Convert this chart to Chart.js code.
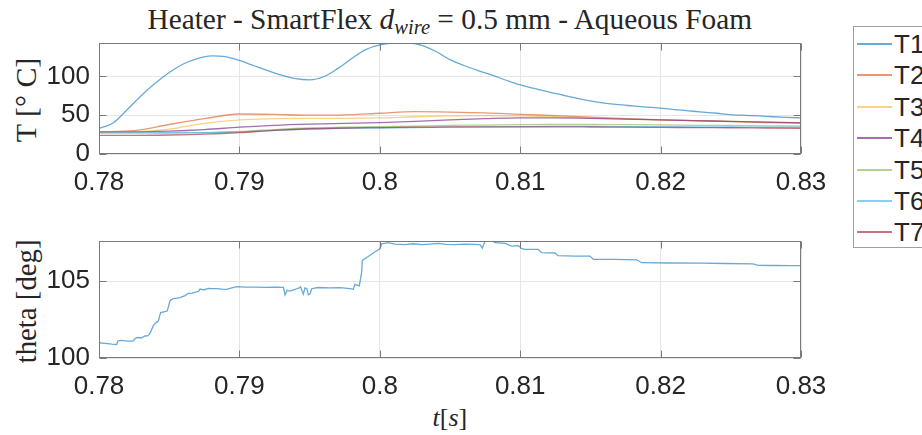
<!DOCTYPE html>
<html><head><meta charset="utf-8">
<script src="https://cdn.jsdelivr.net/npm/chart.js@4"></script>
<style>
html,body{margin:0;padding:0;background:#fff;width:922px;height:435px;overflow:hidden;position:relative;}
.abs{position:absolute;}
.serif{font-family:'Liberation Serif','Times New Roman',serif;color:#262626;white-space:nowrap;line-height:1;}
#legend{left:853px;top:26px;width:120px;height:222px;border:1px solid #a0a0a0;background:#fff;box-sizing:border-box;}
.lrow{position:absolute;left:0;height:30px;width:120px;}
.lline{position:absolute;left:3px;width:35px;height:2px;top:14px;}
.ltxt{position:absolute;left:40px;top:0;font-family:'Liberation Sans',Arial,sans-serif;font-size:26px;line-height:30px;color:#262626;}
</style>
</head><body>
<div id="title" class="abs serif" style="font-size:26px;"></div>
<div id="ylab1" class="abs serif" style="font-size:26px;">T [° C]</div>
<div id="ylab2" class="abs serif" style="font-size:26px;">theta [deg]</div>
<div id="xlab" class="abs serif" style="font-size:26px;"><i>t</i>[<i>s</i>]</div>
<canvas id="c1" class="abs" width="922" height="200" style="left:0;top:0;"></canvas>
<canvas id="c2" class="abs" width="922" height="235" style="left:0;top:200px;"></canvas>
<div id="legend" class="abs"></div>
<script>
// ---------------- DATA ----------------
const seriesNames = ['T1','T2','T3','T4','T5','T6','T7'];
const xTickValues = [0.78, 0.79, 0.80, 0.81, 0.82, 0.83];
const tempTickValues = [0, 50, 100];
const thetaTickValues = [100, 105];

// T1 sampled every 1 ms
const tFast = [0.780,0.781,0.782,0.783,0.784,0.785,0.786,0.787,0.788,0.789,0.790,0.791,0.792,0.793,0.794,0.795,0.796,0.797,0.798,0.799,0.800,0.801,0.802,0.803,0.804,0.805,0.806,0.807,0.808,0.809,0.810,0.811,0.812,0.813,0.814,0.815,0.816,0.817,0.818,0.819,0.820,0.821,0.822,0.823,0.824,0.825,0.826,0.827,0.828,0.829,0.830];
const T1 = [33,40,57,75,91,105,116,123,126.5,125.5,120.5,114,107.5,101.5,97,95.5,99.5,110,123,134.5,140.5,143,143,140,132,121.5,114,107.5,101.5,95,89,84.5,80,76,72,68.3,65.5,63.5,62,60.5,59,57.2,55.6,54,52.5,50.8,49.8,49,48,47.2,46.5];

// T2..T7 sampled every 2.5 ms
const tSlow = [0.7800,0.7825,0.7850,0.7875,0.7900,0.7925,0.7950,0.7975,0.8000,0.8025,0.8050,0.8075,0.8100,0.8125,0.8150,0.8175,0.8200,0.8225,0.8250,0.8275,0.8300];
const T2 = [28.5,30,38,45.5,51.5,51,50,50.5,52.5,54.5,54,53,51,49.5,47.5,45.5,44,42.8,41.7,40.6,39.7];
const T3 = [28,28.5,32,39.5,44,45.5,46,46,46.5,48,49,49.5,49,48,46.5,45,44,43,42,41,40.5];
const T4 = [28.5,28.5,29.5,31.5,34.5,37,38.5,39.5,40.5,42,44,45.5,46.5,46.5,46,45,44,43,42,41,40];
const T5 = [27,27,27,27.5,29,31.5,33.5,34.5,35.3,36,36.8,37.3,37.8,38,38,37.8,37.5,37,36.7,36.3,36];
const T6 = [28.5,28,27.5,27.5,28.5,30.5,32,33,33.5,34,34.5,35,35.3,35.5,35.5,35.3,35.2,35,34.8,34.6,34.5];
const T7 = [24,24,24.5,25.5,27.5,30.5,32.5,33.5,34,34.5,35,35,35,35,34.8,34.5,34.3,34,33.8,33.5,33.2];

// contact angle theta
const thetaT = [0.78000,0.78043,0.78093,0.78126,0.78135,0.78164,0.78199,0.78242,0.78256,0.78271,0.78299,0.78328,0.78349,0.78363,0.78387,0.78406,0.78422,0.78439,0.78462,0.78486,0.78506,0.78527,0.78548,0.78577,0.78613,0.78636,0.78662,0.78696,0.78712,0.78719,0.78748,0.78776,0.78805,0.78838,0.78876,0.78909,0.78947,0.78981,0.7904,0.79111,0.79182,0.79254,0.79313,0.79325,0.7934,0.7936,0.79396,0.79425,0.79435,0.79455,0.79467,0.79481,0.79491,0.79503,0.79515,0.7956,0.79645,0.79716,0.79788,0.79811,0.79823,0.79838,0.79854,0.79871,0.79875,0.79902,0.7993,0.79966,0.80001,0.80014,0.80061,0.80108,0.80179,0.80236,0.80298,0.80358,0.80417,0.80472,0.80536,0.80607,0.80671,0.80714,0.8073,0.80749,0.80797,0.80821,0.80892,0.80939,0.80987,0.81011,0.81034,0.81129,0.81153,0.81248,0.81269,0.8139,0.81497,0.81521,0.81675,0.8183,0.81865,0.82067,0.82281,0.82459,0.82658,0.82696,0.82815,0.82922,0.83];
const thetaV = [100.99,100.95,100.9,100.88,101.12,101.15,101.1,101.1,101.25,101.33,101.3,101.43,101.45,101.6,102.1,102.3,102.4,102.95,103.0,103.05,103.72,103.85,103.88,103.92,104.05,104.2,104.22,104.3,104.35,104.48,104.42,104.52,104.5,104.5,104.47,104.46,104.55,104.63,104.6,104.6,104.59,104.6,104.59,104.1,104.4,104.35,104.45,104.55,104.62,104.15,104.55,104.5,104.1,104.15,104.5,104.58,104.55,104.57,104.5,104.46,104.78,104.74,104.68,105.58,106.34,106.5,106.67,106.9,107.1,107.42,107.49,107.4,107.36,107.42,107.36,107.4,107.45,107.38,107.36,107.4,107.38,107.36,107.14,107.58,107.62,107.49,107.45,107.27,107.3,107.1,107.05,107.05,106.84,106.82,106.65,106.62,106.62,106.4,106.4,106.38,106.19,106.17,106.16,106.14,106.12,106.02,106.01,106.0,106.0];

// ---------------- STYLE ----------------
const colors = ['rgba(0,114,189,0.6)','rgba(217,83,25,0.6)','rgba(237,177,32,0.55)','rgba(126,47,142,0.7)','rgba(119,172,48,0.55)','rgba(77,190,238,0.7)','rgba(162,20,47,0.6)'];
const tickFont = {family:"'Liberation Sans', Arial, sans-serif", size:26};
const tickColor = '#262626';
const gridColor = '#e6e6e6';

function pts(xs, ys){ return xs.map((x,i)=>({x:x, y:ys[i]})); }
function fmt(v){ return String(+Number(v).toFixed(2)); }

const boxPlugin = {
  id:'box',
  afterDraw(chart){
    const {ctx, chartArea:a, scales} = chart;
    const xs = scales.x, ys = scales.y;
    ctx.save();
    ctx.strokeStyle = '#7a7a7a';
    ctx.lineWidth = 1;
    const L = Math.round(a.left)+0.5, R = Math.round(a.right)-0.5, T = Math.round(a.top)+0.5, B = Math.round(a.bottom)-0.5;
    ctx.strokeRect(L, T, R-L, B-T);
    ctx.beginPath();
    xs.ticks.forEach(t=>{
      const px = Math.round(xs.getPixelForValue(t.value))+0.5;
      ctx.moveTo(px,B); ctx.lineTo(px,B-7);
      ctx.moveTo(px,T); ctx.lineTo(px,T+7);
    });
    ys.ticks.forEach(t=>{
      const py = Math.round(ys.getPixelForValue(t.value))+0.5;
      ctx.moveTo(L,py); ctx.lineTo(L+7,py);
      ctx.moveTo(R,py); ctx.lineTo(R-7,py);
    });
    ctx.stroke();
    ctx.restore();
  }
};

function makeScales(ymin, ymax, yTicks, xHeight){
  return {
    x:{type:'linear', min:0.78, max:0.83,
       afterBuildTicks:s=>{ s.ticks = xTickValues.map(v=>({value:v})); },
       afterFit:s=>{ s.height = xHeight; },
       ticks:{font:tickFont, color:tickColor, padding:13, maxRotation:0, autoSkip:false, callback:v=>fmt(v)},
       grid:{color:gridColor, drawTicks:false}, border:{display:false}},
    y:{type:'linear', min:ymin, max:ymax,
       afterBuildTicks:s=>{ s.ticks = yTicks.map(v=>({value:v})); },
       afterFit:s=>{ s.width = 99; },
       ticks:{font:tickFont, color:tickColor, padding:9, callback:v=>fmt(v)},
       grid:{color:gridColor, drawTicks:false}, border:{display:false}}
  };
}

const tempSeries = [pts(tFast,T1), pts(tSlow,T2), pts(tSlow,T3), pts(tSlow,T4), pts(tSlow,T5), pts(tSlow,T6), pts(tSlow,T7)];

new Chart(document.getElementById('c1'), {
  type:'line',
  data:{datasets: tempSeries.map((d,i)=>({label:seriesNames[i], data:d, borderColor:colors[i], borderWidth:1.3, pointRadius:0, cubicInterpolationMode:'monotone', order:7-i}))},
  options:{responsive:false, animation:false, devicePixelRatio:1,
    layout:{padding:{top:43, right:121, left:0, bottom:0}},
    plugins:{legend:{display:false}, tooltip:{enabled:false}},
    scales: makeScales(0, 143, tempTickValues, 46)},
  plugins:[boxPlugin]
});

new Chart(document.getElementById('c2'), {
  type:'line',
  data:{datasets:[{label:'theta', data:pts(thetaT,thetaV), borderColor:colors[0], borderWidth:1.3, pointRadius:0, tension:0}]},
  options:{responsive:false, animation:false, devicePixelRatio:1,
    layout:{padding:{top:41, right:121, left:0, bottom:0}},
    plugins:{legend:{display:false}, tooltip:{enabled:false}},
    scales: makeScales(100, 107.6, thetaTickValues, 77)},
  plugins:[boxPlugin]
});

// ---------------- TEXT / LEGEND ----------------
const title = document.getElementById('title');
title.innerHTML = 'Heater - SmartFlex <i>d</i><sub style="font-size:0.7em;font-style:italic;vertical-align:-0.25em;">wire</sub> = 0.5 mm - Aqueous Foam';
function fitWidth(el, target){
  const fs = parseFloat(el.style.fontSize);
  el.style.fontSize = (fs * target / el.offsetWidth) + 'px';
}
function place(el, cx, cy, rot){
  const w = el.offsetWidth, h = el.offsetHeight;
  el.style.left = (cx - w/2) + 'px';
  el.style.top = (cy - h/2) + 'px';
  if(rot) el.style.transform = 'rotate(-90deg)';
}
const ylab1 = document.getElementById('ylab1');
const ylab2 = document.getElementById('ylab2');
const xlab = document.getElementById('xlab');
fitWidth(title, 605);
fitWidth(ylab1, 84);
fitWidth(ylab2, 124);
fitWidth(xlab, 35);
place(title, 450, 21);
place(ylab1, 26, 100, true);
place(ylab2, 26, 301, true);
place(xlab, 450, 418);

const legend = document.getElementById('legend');
seriesNames.forEach((n,i)=>{
  const row = document.createElement('div');
  row.className = 'lrow';
  row.style.top = Math.round(1.7 + i*31.45) + 'px';
  row.innerHTML = '<div class="lline" style="background:'+colors[i]+'"></div><div class="ltxt">'+n+'</div>';
  legend.appendChild(row);
});
</script>
</body></html>
